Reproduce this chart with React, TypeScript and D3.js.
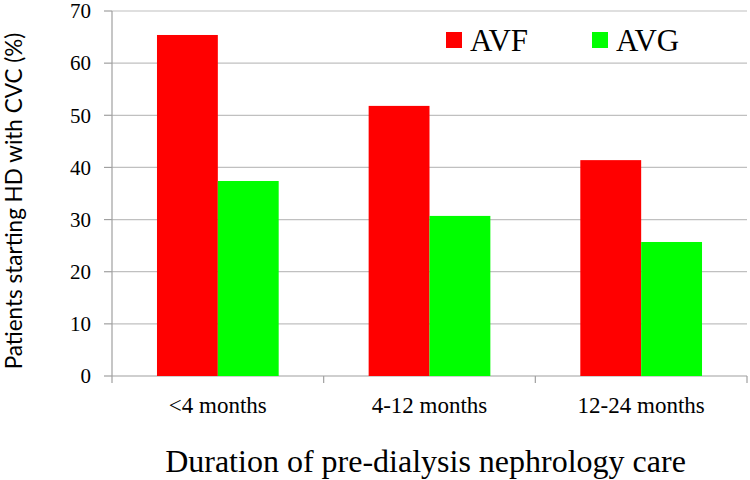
import React from "react";
import * as d3 from "d3";

const categories = ["<4 months", "4-12 months", "12-24 months"];
const seriesNames = ["AVF", "AVG"];
const avfValues = [65.4, 51.8, 41.4];
const avgValues = [37.4, 30.7, 25.7];
const yTicks = [0, 10, 20, 30, 40, 50, 60, 70];
const colors = ["#ff0000", "#00ff00"];

export default function App() {
  const W = 750, H = 480;
  const left = 112, right = 747, top = 11, bottom = 376;
  const x0 = d3.scaleBand<string>().domain(categories).range([left, right]).padding(0);
  const y = d3.scaleLinear().domain([0, 70]).range([bottom, top]);
  const step = x0.step();
  const barW = step * 0.2875;
  const x1 = d3.scaleBand<string>().domain(seriesNames).range([0, barW * 2]).padding(0);
  const series = [avfValues, avgValues];
  const serifStyle = { fontFamily: "Liberation Serif, Times New Roman, DejaVu Serif, serif" };
  const boundaries = [...categories.map((c) => x0(c)!), right];

  return (
    <svg width={W} height={H} style={{ position: "absolute", left: 0, top: 0, background: "#fff" }}>
      {yTicks.map((t) => (
        <g key={t}>
          {t > 0 && <line x1={left} x2={right} y1={y(t)} y2={y(t)} stroke="#c0c0c0" strokeWidth={1.2} />}
          <line x1={left - 8} x2={left} y1={y(t)} y2={y(t)} stroke="#a0a0a0" strokeWidth={1.2} />
          <text x={91} y={y(t)} dy="0.35em" textAnchor="end" style={serifStyle} fontSize={21} fill="#000">
            {t}
          </text>
        </g>
      ))}
      <line x1={left} x2={left} y1={top} y2={bottom} stroke="#a0a0a0" strokeWidth={1.2} />
      <line x1={left} x2={right} y1={bottom} y2={bottom} stroke="#a0a0a0" strokeWidth={1.2} />
      {boundaries.map((b, i) => (
        <line key={i} x1={b} x2={b} y1={bottom} y2={bottom + 7} stroke="#a0a0a0" strokeWidth={1.2} />
      ))}
      {categories.map((c, ci) => {
        const cx = x0(c)! + step / 2;
        return (
          <g key={c}>
            {seriesNames.map((s, si) => (
              <rect
                key={s}
                x={cx - barW + x1(s)!}
                y={y(series[si][ci])}
                width={x1.bandwidth()}
                height={bottom - y(series[si][ci])}
                fill={colors[si]}
              />
            ))}
            <text x={cx} y={413} textAnchor="middle" style={serifStyle} fontSize={23} fill="#000">
              {c}
            </text>
          </g>
        );
      })}
      {seriesNames.map((s, i) => (
        <g key={s} transform={`translate(${446 + i * 146},0)`}>
          <rect x={0} y={32} width={16} height={16} fill={colors[i]} />
          <text x={24} y={51} style={serifStyle} fontSize={31} fill="#000">
            {s}
          </text>
        </g>
      ))}
      <text x={425.5} y={472} textAnchor="middle" style={serifStyle} fontSize={32} fill="#000">
        Duration of pre-dialysis nephrology care
      </text>
      <text
        transform={`translate(22,201) rotate(-90)`}
        textAnchor="middle"
        style={{ fontFamily: "Lato, Open Sans, sans-serif" }}
        fontSize={22.5}
        fill="#000"
      >
        Patients starting HD with CVC (%)
      </text>
    </svg>
  );
}
